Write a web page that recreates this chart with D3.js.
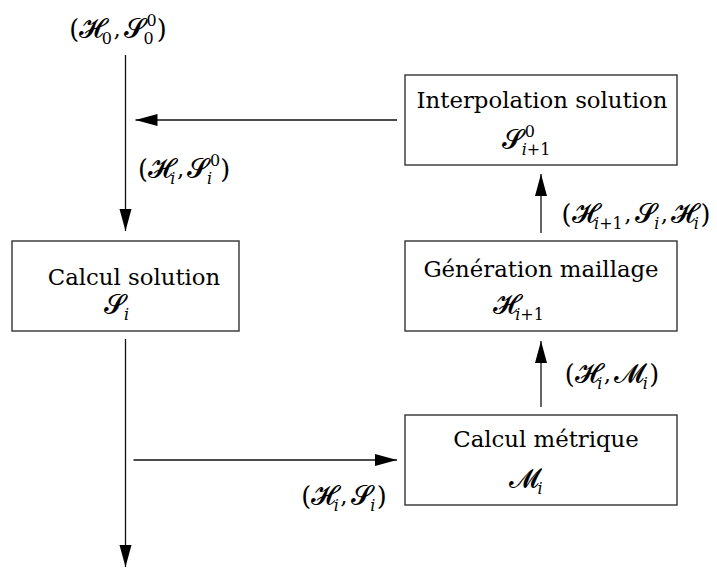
<!DOCTYPE html>
<html lang="fr">
<head>
<meta charset="UTF-8">
<title>Boucle d'adaptation</title>
<script src="https://d3js.org/d3.v7.min.js"></script>
<style>
  body { margin: 0; background: #fff; }
  .box { fill: none; stroke: #333; stroke-width: 1.4; }
  .edge { stroke: #111; stroke-width: 1.3; fill: none; }
  .head { fill: #000; }
  text { font-family: "DejaVu Serif", "Liberation Serif", serif; fill: #000; }
  .script { font-family: "DejaVu Sans", "Noto Sans", serif; }
</style>
</head>
<body>
<svg width="717" height="568"></svg>
<script>
// les quatre etapes
const boxTitles = ["Interpolation solution", "Calcul solution", "Génération maillage", "Calcul métrique"];
const boxSymbols = ["S_{i+1}^0", "S_i", "H_{i+1}", "M_i"];
const boxCols = ["right", "left", "right", "right"];
const boxRows = ["top", "mid", "mid", "bottom"];

// etiquettes des fleches
const edgeLabels = ["(H_0, S_0^0)", "(H_i, S_i^0)", "(H_i, S_i)", "(H_i, M_i)", "(H_{i+1}, S_i, H_i)"];

const svg = d3.select("svg");
const fs = 22.8;

const colX = d3.scaleOrdinal().domain(["left", "right"]).range([125.5, 541]);
const colW = d3.scaleOrdinal().domain(["left", "right"]).range([227, 272]);
const rowY = d3.scaleOrdinal().domain(["top", "mid", "bottom"]).range([120, 286, 460]);
const boxH = 90;

// decalages (titre, symbole) comme dans la figure
const titleDx = [1, 8.5, 0, 5];
const symDx = [-14, -8, -22, -14.5];
const titleDy = [-12, -1, -9, -13];
const symDy = [40, 28, 36, 40];

// lettres calligraphiques (script gras)
const scriptMap = { H: "\uD835\uDCD7", S: "\uD835\uDCE2", M: "\uD835\uDCDC" };

function parseMath(s) {
  const atoms = [];
  let i = 0;
  function group() {
    if (s[i] === "{") {
      const j = s.indexOf("}", i);
      const g = s.slice(i + 1, j);
      i = j + 1;
      return g;
    }
    return s[i++];
  }
  while (i < s.length) {
    const c = s[i];
    if (c === "_") { i++; atoms[atoms.length - 1].sub = group(); }
    else if (c === "^") { i++; atoms[atoms.length - 1].sup = group(); }
    else { atoms.push({ base: c }); i++; }
  }
  return atoms;
}

function smallText(g, str, x, y, size) {
  const t = g.append("text").attr("x", x).attr("y", y).style("font-size", size + "px");
  str.split("").forEach(ch => {
    t.append("tspan")
      .style("font-style", /[a-z]/.test(ch) ? "italic" : "normal")
      .text(ch);
  });
  return t.node().getComputedTextLength();
}

function drawMath(parent, str, cx, baseline, size) {
  const g = parent.append("g");
  let x = 0;
  parseMath(str).forEach(a => {
    const isScript = scriptMap[a.base] !== undefined;
    const isParen = a.base === "(" || a.base === ")";
    const t = g.append("text")
      .attr("x", x).attr("y", isParen ? size * 0.03 : 0)
      .attr("class", isScript ? "script" : null)
      .style("font-size", (isScript ? size * 1.2 : isParen ? size * 1.12 : size) + "px")
      .text(isScript ? scriptMap[a.base] : (a.base === " " ? "\u00a0" : a.base));
    x += t.node().getComputedTextLength() * (a.base === " " ? 0.45 : 1);
    let w = 0;
    if (a.sub) w = Math.max(w, smallText(g, a.sub, x - (isScript ? 1.5 : 0), size * 0.3, size * 0.7));
    if (a.sup) w = Math.max(w, smallText(g, a.sup, x + 1.5, -size * 0.47, size * 0.7) + 1.5);
    x += w;
  });
  g.attr("transform", `translate(${cx - x / 2},${baseline})`);
  return g;
}

// boites
const boxes = boxTitles.map((title, i) => ({
  title, sym: boxSymbols[i], i,
  cx: colX(boxCols[i]), cy: rowY(boxRows[i]), w: colW(boxCols[i])
}));

const gBox = svg.append("g");
gBox.selectAll("rect").data(boxes).join("rect")
  .attr("class", "box")
  .attr("x", d => d.cx - d.w / 2)
  .attr("y", d => d.cy - boxH / 2)
  .attr("width", d => d.w)
  .attr("height", boxH);

gBox.selectAll("text.title").data(boxes).join("text")
  .attr("class", "title")
  .attr("x", d => d.cx + titleDx[d.i])
  .attr("y", d => d.cy + titleDy[d.i])
  .attr("text-anchor", "middle")
  .style("font-size", fs + "px")
  .text(d => d.title);

boxes.forEach(d => drawMath(gBox, d.sym, d.cx + symDx[d.i], d.cy + titleDy[d.i] + symDy[d.i], fs));

// fleches
const interp = boxes[0], solve = boxes[1], mesh = boxes[2], metric = boxes[3];
const gap = 8, headL = 22, headW = 6;

function arrow(x1, y1, x2, y2, head) {
  svg.append("line").attr("class", "edge")
    .attr("x1", x1).attr("y1", y1).attr("x2", x2).attr("y2", y2);
  if (!head) return;
  const ang = Math.atan2(y2 - y1, x2 - x1);
  const p = d3.path();
  p.moveTo(x2, y2);
  p.lineTo(x2 - headL * Math.cos(ang) + headW * Math.sin(ang), y2 - headL * Math.sin(ang) - headW * Math.cos(ang));
  p.lineTo(x2 - headL * Math.cos(ang) - headW * Math.sin(ang), y2 - headL * Math.sin(ang) + headW * Math.cos(ang));
  p.closePath();
  svg.append("path").attr("class", "head").attr("d", p.toString());
}

const topSolve = solve.cy - boxH / 2, botSolve = solve.cy + boxH / 2;
arrow(solve.cx, 55, solve.cx, topSolve - 10, true);
arrow(solve.cx, botSolve + 8, solve.cx, 567, true);
arrow(interp.cx - interp.w / 2 - gap, interp.cy, solve.cx + 10, interp.cy, true);
arrow(solve.cx + 8, metric.cy, metric.cx - metric.w / 2 - gap, metric.cy, true);
arrow(mesh.cx, mesh.cy - boxH / 2 - 8, mesh.cx, interp.cy + boxH / 2 + 9, true);
arrow(metric.cx, metric.cy - boxH / 2 - 8, metric.cx, mesh.cy + boxH / 2 + 10, true);

// etiquettes
const gLab = svg.append("g");
drawMath(gLab, edgeLabels[0], 118, 37, fs);
drawMath(gLab, edgeLabels[1], 184, 177, fs);
drawMath(gLab, edgeLabels[2], 344, 504, fs);
drawMath(gLab, edgeLabels[3], 612, 382, fs);
drawMath(gLab, edgeLabels[4], 636, 222, fs);
</script>
</body>
</html>
